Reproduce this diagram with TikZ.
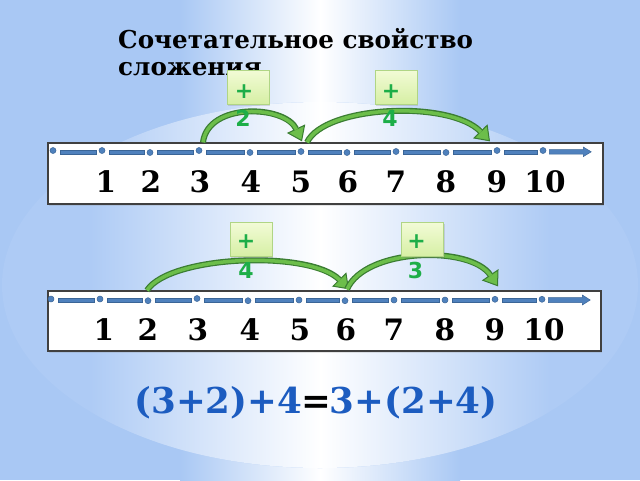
\documentclass[tikz,border=0pt]{standalone}
\usepackage{fontspec}
\setmainfont{DejaVu Serif}
\newfontfamily\gsans{DejaVu Sans}
\usetikzlibrary{arrows.meta,calc,shadows}
\definecolor{bgblue}{HTML}{A9C8F4}
\definecolor{glowblue}{HTML}{AECBF5}
\definecolor{lineblue}{HTML}{4F81BD}
\definecolor{linedark}{HTML}{3A6597}
\definecolor{arcgreen}{HTML}{6CBE4A}
\definecolor{arcdark}{HTML}{3A7D32}
\definecolor{txtgreen}{HTML}{1DAE48}
\definecolor{boxfillA}{HTML}{F2FBD6}
\definecolor{boxfillB}{HTML}{D6EFA4}
\definecolor{boxedge}{HTML}{B0D585}
\definecolor{eqblue}{HTML}{1C5CC0}
\tikzset{
  numbox/.style={draw=black!75, line width=1.3pt, fill=white, inner sep=0pt,
    drop shadow={opacity=0.2, shadow xshift=1pt, shadow yshift=-1.5pt}},
  num/.style={font=\fontsize{29.5}{30}\selectfont\bfseries, inner sep=0pt},
  dotn/.style={circle, fill=lineblue, draw=linedark, line width=0.5pt, minimum size=6pt, inner sep=0pt},
  dashbar/.style={fill=lineblue, draw=linedark, line width=0.5pt},
  plusbox/.style={draw=boxedge, line width=0.8pt, top color=boxfillA, bottom color=boxfillB,
    minimum width=42pt, minimum height=34pt, inner sep=0pt,
    drop shadow={opacity=0.25, shadow xshift=1pt, shadow yshift=-1.5pt}},
  plusnum/.style={text=txtgreen, font=\gsans\bfseries\fontsize{22}{22}\selectfont, inner sep=0pt},
  jumpout/.style={draw=arcdark, line width=6pt,
    -{Triangle[width=20pt,length=14pt,line width=1pt,fill=arcgreen]}},
  jumpin/.style={draw=arcgreen, line width=3.5pt, shorten >=13pt},
  titletext/.style={anchor=base west, inner sep=0pt, font=\fontsize{24.6}{27}\selectfont\bfseries},
}
\begin{document}
\begin{tikzpicture}[x=1pt,y=-1pt]
\useasboundingbox (0,0) rectangle (640,480);
% background
\fill[bgblue] (0,0) rectangle (640,480);
\shade[left color=bgblue, right color=white] (180,0) rectangle (321,480);
\shade[left color=white, right color=bgblue] (320,0) rectangle (460,480);
\begin{scope}
  \clip (320,285) ellipse [x radius=318pt, y radius=183pt];
  \fill[glowblue] (0,0) rectangle (640,480);
  \shade[left color=glowblue, right color=white] (90,0) rectangle (321,480);
  \shade[left color=white, right color=glowblue] (320,0) rectangle (550,480);
\end{scope}
% title
\node[titletext] (title1) at (118,48) {Сочетательное свойство};
\node[titletext] (title2) at (118,75) {сложения};
% number line boxes
\node[numbox, minimum width=555pt, minimum height=61pt] (nl1) at (325.5,173.5) {};
\node[numbox, minimum width=553pt, minimum height=60pt] (nl2) at (324.5,321) {};
% top number line
\foreach \x/\y [count=\i from 0] in {53/150.5,102/150.5,150/152.5,199/150.5,250/152.5,301/151.5,347/152.5,396/151.5,446/152.5,497/150.5,543/150.5}
  \node[dotn] (t\i) at (\x,\y) {};
\foreach \a/\b in {0/1,1/2,2/3,3/4,4/5,5/6,6/7,7/8,8/9,9/10}
  \path let \p1=(t\a.east), \p2=(t\b.west) in
    [dashbar] (\x1+4pt,-150pt) rectangle (\x2-3pt,-154pt);
\draw[dashbar] let \p1=(t10.east) in
  (\x1+3pt,-149.5pt) -- ++(34pt,0pt) -- ++(0pt,2.5pt) -- ++(8pt,-4.8pt) -- ++(-8pt,-4.8pt)
  -- ++(0pt,2.5pt) -- ++(-34pt,0pt) -- cycle;
\foreach \x/\n in {106/1,151/2,200/3,251/4,301/5,348/6,396/7,446/8,497/9,545/10}
  \node[num] (ta\n) at (\x,182) {\n};
% bottom number line
\foreach \x/\y [count=\i from 0] in {51/299,100/299,148/300.7,197/298.5,248/300.7,299/300,345/300.7,394/300,445/300,495/299.3,542/299.3}
  \node[dotn] (b\i) at (\x,\y) {};
\foreach \a/\b in {0/1,1/2,2/3,3/4,4/5,5/6,6/7,7/8,8/9,9/10}
  \path let \p1=(b\a.east), \p2=(b\b.west) in
    [dashbar] (\x1+4pt,-298pt) rectangle (\x2-3pt,-302pt);
\draw[dashbar] let \p1=(b10.east) in
  (\x1+3pt,-297.5pt) -- ++(34pt,0pt) -- ++(0pt,2.5pt) -- ++(8pt,-5pt) -- ++(-8pt,-5pt)
  -- ++(0pt,2.5pt) -- ++(-34pt,0pt) -- cycle;
\foreach \x/\n in {104/1,148/2,198/3,250/4,300/5,346/6,394/7,445/8,495/9,544/10}
  \node[num] (ba\n) at (\x,330) {\n};
% top jumps
\coordinate (s1) at ($(t3 |- nl1.north)+(4,0)$);
\coordinate (e1) at ($(t5 |- nl1.north)+(1,-1)$);
\coordinate (s2) at ($(t5 |- nl1.north)+(6,0)$);
\coordinate (e2) at ($(t9 |- nl1.north)+(-7,-1)$);
\draw[jumpout] (s1) .. controls (208,102) and (285,105) .. (e1);
\draw[jumpin] (s1) .. controls (208,102) and (285,105) .. (e1);
\draw[jumpout] (s2) .. controls (325,105) and (450,100) .. (e2);
\draw[jumpin] (s2) .. controls (325,105) and (450,100) .. (e2);
% bottom jumps
\coordinate (s3) at ($(b2 |- nl2.north)+(-1,0)$);
\coordinate (e3) at ($(b6 |- nl2.north)+(4,-1)$);
\coordinate (s4) at ($(b6 |- nl2.north)+(2,-1)$);
\coordinate (e4) at ($(b9 |- nl2.north)+(3,-4)$);
\draw[jumpout] (s3) .. controls (170,255) and (310,250) .. (e3);
\draw[jumpin] (s3) .. controls (170,255) and (310,250) .. (e3);
\draw[jumpout] (s4) .. controls (365,248) and (470,245) .. (e4);
\draw[jumpin] (s4) .. controls (365,248) and (470,245) .. (e4);
% plus boxes
\node[plusbox] (p1) at (248,87) {};
\node[plusnum] (p1s) at ($(p1.center)+(-4,5)$) {+};
\node[plusnum] (p1n) at ($(p1.center)+(-5,31)$) {2};
\node[plusbox] (p2) at (396,87) {};
\node[plusnum] (p2s) at ($(p2.center)+(-5,5)$) {+};
\node[plusnum] (p2n) at ($(p2.center)+(-6,31)$) {4};
\node[plusbox] (p3) at (251,239.5) {};
\node[plusnum] (p3s) at ($(p3.center)+(-5,2)$) {+};
\node[plusnum] (p3n) at ($(p3.center)+(-5,30.5)$) {4};
\node[plusbox] (p4) at (422.5,239.5) {};
\node[plusnum] (p4s) at ($(p4.center)+(-6,2)$) {+};
\node[plusnum] (p4n) at ($(p4.center)+(-7,30.5)$) {3};
% equation
\node[font=\fontsize{35.6}{36}\selectfont\bfseries, inner sep=0pt] (eq) at (316,403)
  {\textcolor{eqblue}{(3+2)+4}\kern-1pt=\kern-1pt\textcolor{eqblue}{3+(2+4)}};
\end{tikzpicture}
\end{document}
